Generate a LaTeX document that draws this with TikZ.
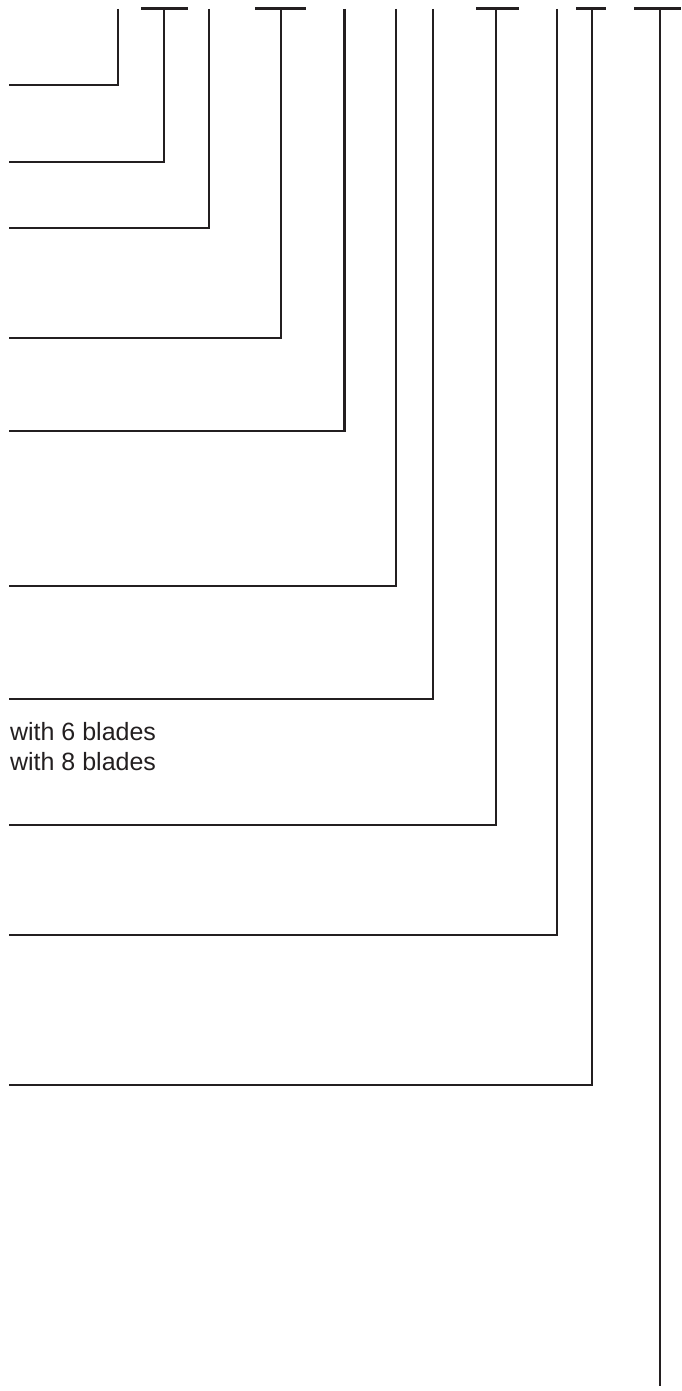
\documentclass[tikz,border=0pt]{standalone}
\usepackage{fontspec}
\setmainfont{Liberation Sans}
\definecolor{ink}{RGB}{35,31,32}
\begin{document}
\begin{tikzpicture}[x=1pt, y=-1pt, line width=2.2pt, color=ink, line join=miter,
    every node/.style={inner sep=0pt, text=ink, font=\fontsize{25}{30}\selectfont}]
  % 0. 画布范围
  \useasboundingbox (0,0) rectangle (681,1391);

  % 1. 引线 (竖线 + 横线)
  \foreach \n/\x/\y in {1/118/85, 2/164/162, 3/209/228, 4/281/338, 5/344.5/431,
      6/396/586, 7/433/699, 8/496/825, 9/557/935, 10/592/1085}{
    \coordinate (top\n) at (\x,9);
    \coordinate (bend\n) at (\x,\y);
    \coordinate (end\n) at (9,\y);
    \draw (top\n) -- (bend\n) -- (end\n);
  }
  % 最右边的长竖线
  \coordinate (top11) at (660,9);
  \coordinate (foot11) at (660,1386);
  \draw (top11) -- (foot11);

  % 2. 顶部短横线 (T 形)
  \foreach \n/\a/\b in {2/141/188, 4/255/306, 8/476/519, 10/576/606, 11/634/681}{
    \coordinate (barL\n) at (\a,8.5);
    \coordinate (barR\n) at (\b,8.5);
    \draw (barL\n) -- (barR\n);
  }

  % 3. 文字
  \node[anchor=base west] (six) at (9,740) {with 6 blades};
  \node[anchor=base west] (eight) at (9,770) {with 8 blades};
\end{tikzpicture}
\end{document}
